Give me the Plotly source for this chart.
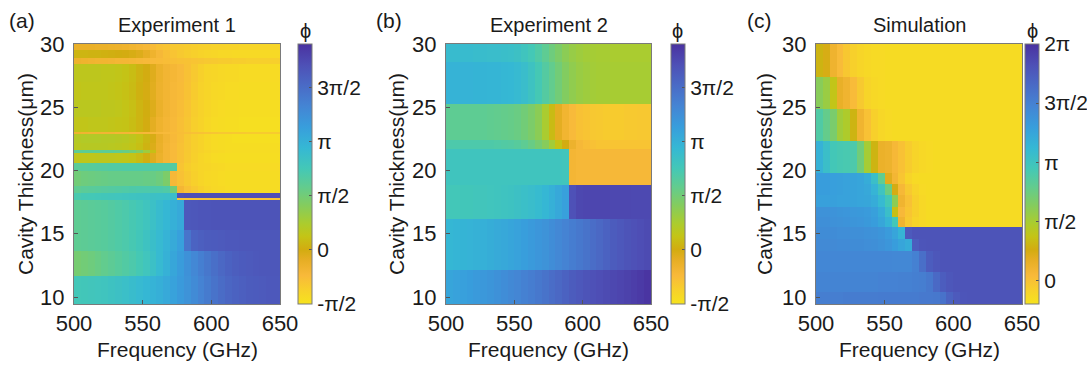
import numpy as np
import plotly.graph_objects as go

W, H = 1087, 365
PI = np.pi

# ---------------- data ----------------
FREQ_EDGES = list(range(500, 655, 5))      # GHz, 30 columns
FREQ_TICKS = [500, 550, 600, 650]
THICK_TICKS = [10, 15, 20, 25, 30]

# phase values in units of pi; rows listed from top (thick) to bottom (thin)
THICK_EDGES_A = [30, 29.5, 28.9, 28.4, 27.0, 25.6, 24.2, 23.05, 22.85, 22.2, 21.6,
                 21.4, 20.6, 20.0, 18.8, 18.25, 17.85, 17.7, 15.3, 13.6, 11.7, 9.4]
PHASE_A = [
    [-0.12,-0.12,-0.12,-0.13,-0.13,-0.14,-0.15,-0.16,-0.18,-0.20,
     -0.22,-0.25,-0.28,-0.30,-0.32,-0.33,-0.34,-0.35,-0.36,-0.37,
     -0.38,-0.38,-0.39,-0.39,-0.40,-0.40,-0.40,-0.40,-0.40,-0.40],
    [0.05,0.05,0.04,0.04,0.03,0.02,0.01,0.00,-0.02,-0.05,
     -0.10,-0.16,-0.22,-0.27,-0.30,-0.33,-0.35,-0.37,-0.39,-0.40,
     -0.41,-0.42,-0.42,-0.43,-0.43,-0.43,-0.43,-0.43,-0.43,-0.43],
    [-0.15,-0.16,-0.17,-0.18,-0.18,-0.19,-0.20,-0.20,-0.21,-0.22,
     -0.23,-0.24,-0.25,-0.26,-0.27,-0.28,-0.29,-0.30,-0.31,-0.32,
     -0.33,-0.34,-0.34,-0.35,-0.35,-0.36,-0.36,-0.36,-0.36,-0.36],
    [0.16,0.16,0.16,0.16,0.15,0.15,0.14,0.12,0.09,0.04,
     0.00,-0.06,-0.14,-0.19,-0.21,-0.24,-0.28,-0.33,-0.37,-0.40,
     -0.41,-0.42,-0.43,-0.43,-0.44,-0.44,-0.44,-0.44,-0.44,-0.44],
    [0.14,0.15,0.15,0.15,0.15,0.14,0.13,0.11,0.08,0.03,
     -0.01,-0.07,-0.15,-0.19,-0.22,-0.25,-0.29,-0.34,-0.38,-0.40,
     -0.42,-0.43,-0.44,-0.44,-0.45,-0.45,-0.45,-0.45,-0.45,-0.45],
    [0.17,0.17,0.17,0.17,0.16,0.16,0.15,0.13,0.10,0.05,
     0.01,-0.05,-0.13,-0.19,-0.22,-0.26,-0.30,-0.35,-0.38,-0.41,
     -0.43,-0.44,-0.45,-0.45,-0.46,-0.46,-0.46,-0.46,-0.46,-0.46],
    [0.14,0.14,0.15,0.15,0.15,0.14,0.13,0.12,0.09,0.05,
     0.00,-0.08,-0.16,-0.20,-0.23,-0.27,-0.31,-0.36,-0.39,-0.42,
     -0.44,-0.45,-0.46,-0.46,-0.47,-0.47,-0.47,-0.47,-0.47,-0.47],
    [-0.16,-0.17,-0.18,-0.18,-0.19,-0.19,-0.20,-0.20,-0.21,-0.21,
     -0.22,-0.22,-0.23,-0.24,-0.25,-0.26,-0.27,-0.28,-0.29,-0.30,
     -0.31,-0.32,-0.32,-0.33,-0.33,-0.34,-0.34,-0.34,-0.34,-0.34],
    [0.20,0.21,0.21,0.21,0.20,0.20,0.19,0.18,0.16,0.12,
     0.06,-0.02,-0.12,-0.19,-0.23,-0.27,-0.32,-0.36,-0.39,-0.42,
     -0.44,-0.45,-0.46,-0.47,-0.47,-0.47,-0.47,-0.47,-0.47,-0.47],
    [0.18,0.19,0.19,0.19,0.19,0.18,0.17,0.16,0.14,0.10,
     0.04,-0.04,-0.13,-0.20,-0.24,-0.28,-0.32,-0.36,-0.39,-0.42,
     -0.44,-0.45,-0.46,-0.46,-0.46,-0.46,-0.46,-0.46,-0.46,-0.46],
    [0.60,0.60,0.60,0.60,0.60,0.60,0.58,0.55,0.50,0.42,
     0.30,0.10,-0.12,-0.20,-0.24,-0.28,-0.32,-0.36,-0.38,-0.40,
     -0.42,-0.43,-0.44,-0.45,-0.45,-0.45,-0.45,-0.45,-0.45,-0.45],
    [0.14,0.15,0.15,0.16,0.16,0.16,0.15,0.14,0.12,0.08,
     0.02,-0.06,-0.14,-0.20,-0.24,-0.28,-0.33,-0.37,-0.40,-0.42,
     -0.44,-0.45,-0.46,-0.46,-0.46,-0.46,-0.46,-0.46,-0.46,-0.46],
    [0.62,0.63,0.64,0.65,0.66,0.67,0.67,0.68,0.68,0.68,
     0.68,0.68,0.68,0.68,0.66,-0.30,-0.35,-0.38,-0.40,-0.41,
     -0.42,-0.43,-0.44,-0.44,-0.44,-0.44,-0.44,-0.44,-0.44,-0.44],
    [0.50,0.52,0.53,0.54,0.55,0.56,0.56,0.56,0.56,0.56,
     0.55,0.55,0.52,0.45,-0.22,-0.28,-0.33,-0.37,-0.40,-0.42,
     -0.43,-0.44,-0.45,-0.45,-0.45,-0.45,-0.45,-0.45,-0.45,-0.45],
    [0.60,0.62,0.63,0.64,0.65,0.66,0.67,0.68,0.69,0.70,
     0.70,0.70,0.70,0.68,0.50,-0.20,-0.28,-0.33,-0.37,-0.40,
     -0.42,-0.43,-0.44,-0.45,-0.45,-0.45,-0.45,-0.45,-0.45,-0.45],
    [0.72,0.74,0.75,0.76,0.77,0.78,0.79,0.80,0.81,0.82,
     0.83,0.84,0.85,0.86,0.88,1.70,1.72,1.72,1.72,1.72,
     1.72,1.72,1.72,1.72,1.72,1.72,1.72,1.72,1.72,1.72],
    [0.72,0.74,0.75,0.76,0.77,0.78,0.79,0.80,0.81,0.82,
     0.83,0.84,0.85,0.86,0.88,-0.30,-0.30,-0.30,-0.30,-0.30,
     -0.30,-0.30,-0.30,-0.30,-0.30,-0.30,-0.30,-0.30,-0.30,-0.30],
    [0.60,0.61,0.62,0.63,0.64,0.66,0.68,0.70,0.73,0.76,
     0.80,0.85,0.90,0.95,1.00,1.05,1.65,1.66,1.67,1.67,
     1.68,1.68,1.68,1.68,1.68,1.68,1.68,1.68,1.68,1.68],
    [0.60,0.61,0.62,0.63,0.64,0.66,0.68,0.70,0.73,0.77,
     0.82,0.87,0.92,0.98,1.04,1.12,1.45,1.57,1.60,1.62,
     1.63,1.64,1.65,1.65,1.66,1.66,1.66,1.66,1.66,1.66],
    [0.48,0.50,0.52,0.55,0.58,0.61,0.64,0.67,0.70,0.74,
     0.79,0.85,0.92,0.99,1.07,1.15,1.23,1.30,1.37,1.43,
     1.49,1.54,1.58,1.61,1.63,1.64,1.65,1.66,1.66,1.66],
    [0.76,0.77,0.78,0.79,0.80,0.82,0.84,0.86,0.89,0.92,
     0.95,0.98,1.01,1.05,1.10,1.16,1.22,1.28,1.34,1.40,
     1.46,1.51,1.55,1.58,1.60,1.62,1.63,1.64,1.65,1.65],
]

THICK_EDGES_B = [30, 28.6, 25.25, 22.4, 21.7, 18.85, 16.2, 12.1, 9.4]
PHASE_B = [
    [0.90,0.90,0.90,0.90,0.89,0.89,0.88,0.88,0.87,0.86,
     0.84,0.80,0.75,0.68,0.60,0.52,0.45,0.38,0.33,0.30,
     0.28,0.27,0.26,0.26,0.25,0.25,0.25,0.25,0.25,0.25],
    [0.98,0.98,0.98,0.98,0.97,0.97,0.96,0.96,0.95,0.94,
     0.92,0.88,0.82,0.74,0.66,0.58,0.50,0.42,0.36,0.32,
     0.30,0.28,0.27,0.27,0.26,0.26,0.26,0.26,0.26,0.26],
    [0.60,0.60,0.60,0.60,0.60,0.60,0.59,0.58,0.57,0.56,
     0.54,0.50,0.45,0.38,0.25,0.08,-0.08,-0.18,-0.24,-0.28,
     -0.30,-0.32,-0.33,-0.34,-0.34,-0.34,-0.33,-0.33,-0.32,-0.32],
    [0.70,0.70,0.70,0.70,0.70,0.69,0.69,0.68,0.67,0.66,
     0.64,0.60,0.55,0.48,0.40,0.28,0.12,0.00,-0.15,-0.22,
     -0.26,-0.28,-0.30,-0.30,-0.30,-0.30,-0.30,-0.30,-0.30,-0.30],
    [0.80,0.80,0.80,0.80,0.80,0.80,0.80,0.80,0.80,0.80,
     0.80,0.80,0.80,0.80,0.80,0.80,0.80,0.78,-0.20,-0.22,
     -0.22,-0.22,-0.22,-0.22,-0.22,-0.22,-0.22,-0.22,-0.22,-0.22],
    [0.76,0.76,0.77,0.77,0.78,0.78,0.79,0.80,0.81,0.82,
     0.84,0.86,0.88,0.91,0.95,1.00,1.06,1.12,1.70,1.76,
     1.77,1.77,1.77,1.77,1.76,1.76,1.76,1.75,1.75,1.75],
    [0.95,0.96,0.97,0.98,0.99,1.00,1.02,1.04,1.06,1.08,
     1.10,1.13,1.16,1.19,1.22,1.26,1.30,1.34,1.38,1.42,
     1.46,1.50,1.54,1.58,1.62,1.65,1.68,1.70,1.72,1.74],
    [1.08,1.10,1.12,1.14,1.16,1.18,1.20,1.23,1.26,1.29,
     1.32,1.35,1.38,1.42,1.46,1.50,1.54,1.58,1.62,1.65,
     1.68,1.70,1.72,1.74,1.76,1.78,1.80,1.82,1.85,1.88],
]

THICK_EDGES_C = [30, 27.4, 24.9, 22.3, 19.8, 18.9, 18.1, 17.1, 16.3, 15.5,
                 14.6, 13.6, 12.0, 10.4, 9.4]
PHASE_C = [
    [0.30,0.24,0.11,0.03,-0.03,-0.08,-0.11,-0.13,-0.14,-0.14,
     -0.15,-0.15,-0.15,-0.15,-0.15,-0.15,-0.15,-0.15,-0.15,-0.15,
     -0.15,-0.15,-0.15,-0.15,-0.15,-0.15,-0.15,-0.15,-0.15,-0.15],
    [0.62,0.55,0.38,0.15,0.10,0.03,-0.04,-0.10,-0.13,-0.14,
     -0.15,-0.15,-0.15,-0.15,-0.15,-0.15,-0.15,-0.15,-0.15,-0.15,
     -0.15,-0.15,-0.15,-0.15,-0.15,-0.15,-0.15,-0.15,-0.15,-0.15],
    [0.88,0.78,0.68,0.52,0.47,0.30,0.10,0.00,-0.08,-0.12,
     -0.14,-0.15,-0.15,-0.15,-0.15,-0.15,-0.15,-0.15,-0.15,-0.15,
     -0.15,-0.15,-0.15,-0.15,-0.15,-0.15,-0.15,-0.15,-0.15,-0.15],
    [1.16,1.05,0.95,0.93,0.92,0.90,0.72,0.50,0.30,0.14,
     0.12,0.06,0.00,-0.06,-0.10,-0.13,-0.14,-0.15,-0.15,-0.15,
     -0.15,-0.15,-0.15,-0.15,-0.15,-0.15,-0.15,-0.15,-0.15,-0.15],
    [1.30,1.30,1.29,1.28,1.27,1.26,1.25,1.20,1.05,0.80,
     0.20,0.08,-0.02,-0.10,-0.14,-0.15,-0.15,-0.15,-0.15,-0.15,
     -0.15,-0.15,-0.15,-0.15,-0.15,-0.15,-0.15,-0.15,-0.15,-0.15],
    [1.30,1.30,1.29,1.28,1.27,1.26,1.25,1.23,1.15,1.00,
     0.75,0.25,0.06,-0.04,-0.10,-0.14,-0.15,-0.15,-0.15,-0.15,
     -0.15,-0.15,-0.15,-0.15,-0.15,-0.15,-0.15,-0.15,-0.15,-0.15],
    [1.28,1.28,1.28,1.27,1.27,1.26,1.25,1.24,1.20,1.10,
     0.95,0.60,0.10,0.00,-0.08,-0.13,-0.15,-0.15,-0.15,-0.15,
     -0.15,-0.15,-0.15,-0.15,-0.15,-0.15,-0.15,-0.15,-0.15,-0.15],
    [1.38,1.38,1.37,1.36,1.35,1.34,1.33,1.32,1.28,1.20,
     1.05,0.35,0.05,-0.02,-0.08,-0.13,-0.15,-0.15,-0.15,-0.15,
     -0.15,-0.15,-0.15,-0.15,-0.15,-0.15,-0.15,-0.15,-0.15,-0.15],
    [1.40,1.40,1.39,1.38,1.37,1.36,1.35,1.33,1.30,1.24,
     1.15,0.95,0.10,-0.04,-0.10,-0.13,-0.15,-0.15,-0.15,-0.15,
     -0.15,-0.15,-0.15,-0.15,-0.15,-0.15,-0.15,-0.15,-0.15,-0.15],
    [1.42,1.42,1.42,1.41,1.41,1.40,1.40,1.39,1.38,1.36,
     1.32,1.25,1.15,1.76,1.80,1.80,1.80,1.80,1.80,1.80,
     1.80,1.80,1.80,1.80,1.80,1.80,1.80,1.80,1.80,1.80],
    [1.44,1.44,1.44,1.43,1.43,1.42,1.42,1.41,1.40,1.38,
     1.35,1.30,1.25,1.20,1.74,1.79,1.80,1.80,1.80,1.80,
     1.80,1.80,1.80,1.80,1.80,1.80,1.80,1.80,1.80,1.80],
    [1.46,1.46,1.46,1.46,1.46,1.46,1.46,1.46,1.46,1.46,
     1.46,1.45,1.45,1.45,1.50,1.62,1.74,1.78,1.80,1.80,
     1.80,1.80,1.80,1.80,1.80,1.80,1.80,1.80,1.80,1.80],
    [1.48,1.48,1.48,1.48,1.48,1.48,1.48,1.48,1.48,1.49,
     1.49,1.49,1.50,1.50,1.51,1.52,1.56,1.66,1.74,1.78,
     1.80,1.80,1.80,1.80,1.80,1.80,1.80,1.80,1.80,1.80],
    [1.52,1.52,1.52,1.52,1.53,1.53,1.53,1.53,1.53,1.54,
     1.54,1.54,1.54,1.54,1.54,1.55,1.55,1.56,1.60,1.70,
     1.76,1.79,1.80,1.80,1.80,1.80,1.80,1.80,1.80,1.80],
]

CB_TICKS_AB = [-0.5, 0, 0.5, 1.0, 1.5]
CB_TEXT_AB = ["-π/2", "0", "π/2", "π", "3π/2"]
CB_TICKS_C = [0, 0.5, 1.0, 1.5, 2.0]
CB_TEXT_C = ["0", "π/2", "π", "3π/2", "2π"]
TITLES = ["Experiment 1", "Experiment 2", "Simulation"]
LABELS = ["(a)", "(b)", "(c)"]

# ---------------- style ----------------
SCALE = [
    [0.00, "#F6E31E"], [0.05, "#F7D22A"], [0.11, "#F8B93A"], [0.17, "#E6AE24"],
    [0.21, "#D2AC10"], [0.26, "#C4C416"], [0.31, "#ABCC2E"], [0.38, "#84CC5E"],
    [0.45, "#62CC8E"], [0.52, "#44C8B6"], [0.60, "#35B8D4"], [0.68, "#389EDC"],
    [0.76, "#4485D4"], [0.84, "#4A6BC6"], [0.92, "#4E50B6"], [1.00, "#4A32A0"],
]
FONT = "Liberation Sans, Arial, Helvetica, sans-serif"
TXT = "#1a1a1a"
FRAME = "#7a7a7a"

PLOT_X = [(74, 280), (446, 651), (816, 1022)]
CBAR_X = [298, 671, 1025]
TOP, BOT = 44, 304

fig = go.Figure()
panels = [
    (PHASE_A, THICK_EDGES_A, -0.5, 1.9, CB_TICKS_AB, CB_TEXT_AB),
    (PHASE_B, THICK_EDGES_B, -0.5, 1.9, CB_TICKS_AB, CB_TEXT_AB),
    (PHASE_C, THICK_EDGES_C, -0.2, 2.0, CB_TICKS_C, CB_TEXT_C),
]
ymid = 1 - (TOP + BOT) / 2 / H
for k, (rows, edges, cmin, cmax, tv, tt) in enumerate(panels):
    z = (np.array(rows[::-1]) * PI)
    yv = edges[::-1]
    sfx = "" if k == 0 else str(k + 1)
    fig.add_trace(go.Heatmap(
        x=FREQ_EDGES, y=yv, z=z, zmin=cmin * PI, zmax=cmax * PI,
        colorscale=SCALE, xaxis="x" + sfx, yaxis="y" + sfx, hoverinfo="skip",
        colorbar=dict(
            x=CBAR_X[k] / W, xanchor="left", y=ymid, yanchor="middle",
            len=BOT - TOP, lenmode="pixels", thickness=14, thicknessmode="pixels",
            xpad=0, ypad=0, outlinewidth=1, outlinecolor=FRAME,
            tickvals=[v * PI for v in tv], ticktext=tt,
            ticks="inside", ticklen=3, tickcolor="#555",
            tickfont=dict(family=FONT, size=21, color=TXT),
        ),
    ))
    x0, x1 = PLOT_X[k]
    fig.layout["xaxis" + sfx] = dict(
        domain=[x0 / W, x1 / W], range=[500, 650], anchor="y" + sfx,
        tickvals=FREQ_TICKS, ticks="inside", ticklen=4, tickcolor="#555",
        showline=True, mirror=True, linecolor=FRAME, linewidth=1,
        showgrid=False, zeroline=False, ticklabelstandoff=0, automargin=False,
        tickfont=dict(family=FONT, size=22, color=TXT),
    )
    fig.layout["yaxis" + sfx] = dict(
        domain=[1 - BOT / H, 1 - TOP / H], range=[9.45, 30], anchor="x" + sfx,
        tickvals=THICK_TICKS, ticks="inside", ticklen=4, tickcolor="#555",
        showline=True, mirror=True, linecolor=FRAME, linewidth=1,
        showgrid=False, zeroline=False, ticklabelstandoff=4, automargin=False,
        tickfont=dict(family=FONT, size=22, color=TXT),
    )

def ann(text, x, y, size, angle=0):
    return dict(text=text, x=x / W, y=1 - y / H, xref="paper", yref="paper",
                showarrow=False, xanchor="center", yanchor="middle",
                textangle=angle, font=dict(family=FONT, size=size, color=TXT))

annots = []
label_x = [22, 389, 759]
ytitle_x = [25, 396, 764]
phi_x = [305, 677.5, 1032]
for k in range(3):
    x0, x1 = PLOT_X[k]
    xc = (x0 + x1) / 2
    annots.append(ann(LABELS[k], label_x[k], 21, 21))
    annots.append(ann(TITLES[k], xc, 25, 20))
    annots.append(ann("Frequency (GHz)", xc, 349, 21))
    annots.append(ann("Cavity Thickness(μm)", ytitle_x[k], 174, 21, -90))
    annots.append(ann("ϕ", phi_x[k], 31, 20))

fig.update_layout(
    width=W, height=H, margin=dict(l=0, r=0, t=0, b=0, autoexpand=False),
    paper_bgcolor="white", plot_bgcolor="white",
    annotations=annots, showlegend=False,
)
fig.write_html("out.html", config={"displayModeBar": False},
               post_script="document.body.style.margin='0px';")
